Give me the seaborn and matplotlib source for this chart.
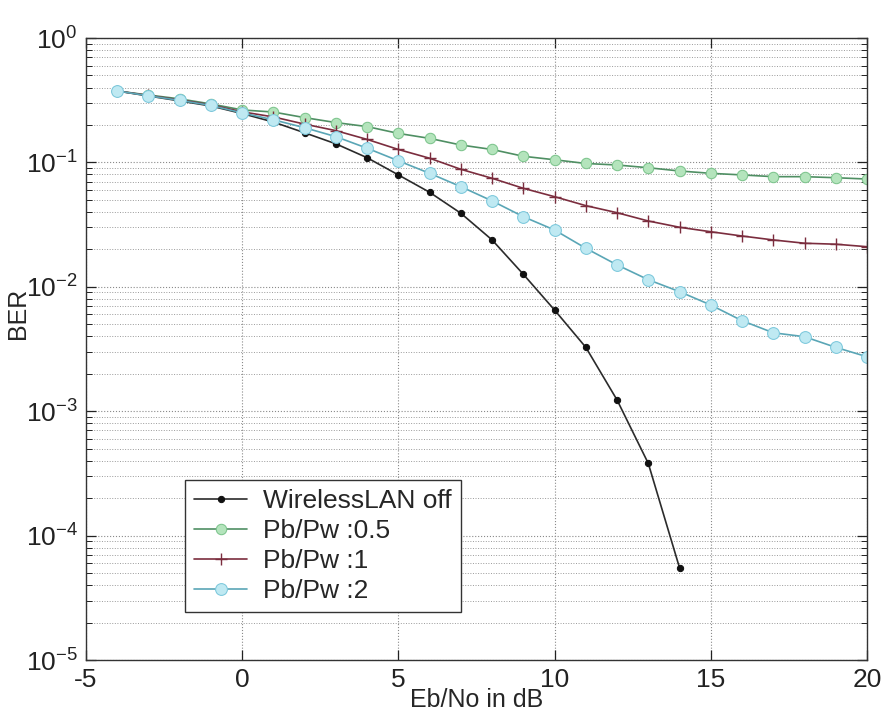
import matplotlib
matplotlib.use("Agg")
import matplotlib.pyplot as plt
import seaborn as sns
import pandas as pd
from matplotlib.ticker import LogLocator, NullFormatter, FixedLocator

# Eb/No grid (dB)
snr_db = list(range(-4, 21))
snr_off = list(range(-4, 15))

# Bit error rates per interference ratio
ber_off = [0.375, 0.342, 0.312, 0.284, 0.247, 0.211, 0.173, 0.141, 0.109,
           0.0793, 0.0575, 0.039, 0.0238, 0.0126, 0.0065, 0.00326, 0.00123,
           0.00038, 5.5e-5]
ber_05 = [0.375, 0.348, 0.324, 0.295, 0.264, 0.254, 0.229, 0.209, 0.194,
          0.171, 0.156, 0.138, 0.127, 0.112, 0.105, 0.098, 0.0953, 0.0906,
          0.0853, 0.0817, 0.0793, 0.0768, 0.0768, 0.0753, 0.0735]
ber_1 = [0.375, 0.345, 0.318, 0.29, 0.255, 0.232, 0.203, 0.180, 0.153,
         0.127, 0.108, 0.088, 0.0745, 0.0619, 0.053, 0.0449, 0.0394, 0.0338,
         0.0301, 0.0277, 0.0256, 0.0238, 0.0224, 0.022, 0.021]
ber_2 = [0.375, 0.343, 0.315, 0.287, 0.25, 0.22, 0.19, 0.161, 0.130,
         0.103, 0.0817, 0.0638, 0.049, 0.0366, 0.0286, 0.0204, 0.015,
         0.0114, 0.00914, 0.00714, 0.00534, 0.00427, 0.00397, 0.00326,
         0.00274]

series_labels = ["WirelessLAN off", "Pb/Pw :0.5", "Pb/Pw :1", "Pb/Pw :2"]
x_ticks = [-5, 0, 5, 10, 15, 20]

sns.set_style("ticks")
plt.rcParams["font.family"] = ["Liberation Sans", "DejaVu Sans"]
plt.rcParams["axes.unicode_minus"] = False
plt.rcParams["mathtext.default"] = "regular"

fig = plt.figure(figsize=(8.88, 7.13), dpi=100)
ax = fig.add_axes([86 / 888, 53 / 713, 781 / 888, 622 / 713])

styles = [
    dict(color="#2b2b2b", marker="o", markersize=4.5, markerfacecolor="#111111",
         markeredgecolor="#111111"),
    dict(color="#4f8f63", marker="o", markersize=7.5, markerfacecolor="#b4e4bc",
         markeredgecolor="#7cc48c"),
    dict(color="#7b2d3e", marker="+", markersize=9, markeredgecolor="#7b2d3e",
         markeredgewidth=1.0),
    dict(color="#5aa6b6", marker="o", markersize=8.5, markerfacecolor="#bfe9f2",
         markeredgecolor="#7cc8dc"),
]
data = [(snr_off, ber_off), (snr_db, ber_05), (snr_db, ber_1), (snr_db, ber_2)]

for (xs, ys), lab, st in zip(data, series_labels, styles):
    df = pd.DataFrame({"Eb/No": xs, "BER": ys})
    sns.lineplot(data=df, x="Eb/No", y="BER", ax=ax, label=lab,
                 linewidth=1.2, **st)

ax.set_yscale("log")
ax.set_xlim(-5, 20)
ax.set_ylim(1e-5, 1)
ax.xaxis.set_major_locator(FixedLocator(x_ticks))
ax.yaxis.set_major_locator(LogLocator(base=10, numticks=10))
ax.yaxis.set_minor_locator(LogLocator(base=10, subs=range(2, 10), numticks=20))
ax.yaxis.set_minor_formatter(NullFormatter())

ax.grid(which="major", linestyle=":", color="#8a8a8a", linewidth=0.8)
ax.grid(which="minor", axis="y", linestyle=":", color="#9a9a9a", linewidth=0.7)

ax.tick_params(which="both", direction="in", top=True, right=True,
               labelsize=19, colors="#222222")
ax.tick_params(which="major", length=7, width=0.9, pad=6)
ax.tick_params(which="minor", length=4, width=0.7)
for sp in ax.spines.values():
    sp.set_color("#333333")
    sp.set_linewidth(1.0)

ax.set_xlabel("Eb/No in dB", fontsize=18, labelpad=-3)
ax.set_ylabel("BER", fontsize=18)
ax.yaxis.set_label_coords(-0.072, 0.558)

leg = ax.legend(loc="lower left", bbox_to_anchor=(0.127, 0.077), frameon=True,
                fancybox=False, edgecolor="#333333", fontsize=19,
                handlelength=2.0, labelspacing=0.22, borderpad=0.35,
                handletextpad=0.6, borderaxespad=0.0)
leg.get_frame().set_linewidth(1.0)
leg.get_frame().set_alpha(1.0)

fig.savefig("out.png", dpi=100)
